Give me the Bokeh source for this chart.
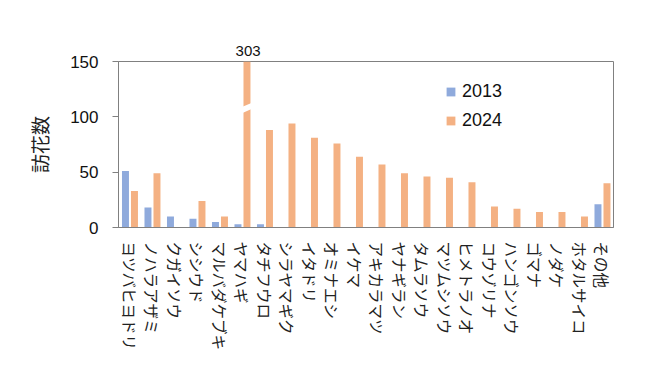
import math
from bokeh.plotting import figure
from bokeh.models import (ColumnDataSource, Range1d, FixedTicker, Legend, LegendItem, Title)
from bokeh.embed import file_html
from bokeh.resources import INLINE

# Flower species visited (x categories)
species = ["ヨツバヒヨドリ", "ノハラアザミ", "クガイソウ", "シシウド", "マルバダケブキ",
           "ヤマハギ", "タチフウロ", "シラヤマギク", "イタドリ", "オミナエシ", "イケマ",
           "アキカラマツ", "ヤナギラン", "タムラソウ", "マツムシソウ", "ヒメトラノオ",
           "コウゾリナ", "ハンゴンソウ", "ゴマナ", "ノダケ", "ホタルサイコ", "その他"]
# Visit counts per survey year
visits_2013 = [51, 18, 10, 8, 5, 3, 3, 0, 0, 0, 0, 0, 0, 0, 0, 0, 0, 0, 0, 0, 0, 21]
visits_2024 = [33, 49, 0, 24, 10, 303, 88, 94, 81, 76, 64, 57, 49, 46, 45, 41, 19, 17, 14, 14, 10, 40]
y_ticks = [0, 50, 100, 150]
y_max = 150

BLUE = "#8faadc"
ORANGE = "#f4b183"
GRID_GRAY = "#808080"
JP_FONT = "Noto Sans CJK JP"
NUM_FONT = "Liberation Sans"

W, H = 654, 387
BORDER_L, BORDER_R, BORDER_T, BORDER_B = 118, 41, 61, 160
frame_w = W - BORDER_L - BORDER_R

n = len(species)
idx = list(range(n))
OFF13, OFF24, BAR_W = -0.19, 0.21, 0.31
src = ColumnDataSource(dict(
    x13=[i + 0.5 + OFF13 for i in idx],
    x24=[i + 0.5 + OFF24 for i in idx],
    v13=visits_2013,
    v24=visits_2024,
))

p = figure(width=W, height=H, output_backend="svg", toolbar_location=None,
           x_range=Range1d(0, n), y_range=Range1d(0, y_max),
           min_border_left=BORDER_L, min_border_right=BORDER_R,
           min_border_top=BORDER_T, min_border_bottom=BORDER_B)
p.background_fill_color = "white"
p.border_fill_color = "white"
p.outline_line_color = GRID_GRAY
p.outline_line_width = 1
p.xgrid.visible = False
p.ygrid.visible = False

r13 = p.vbar(x="x13", top="v13", width=BAR_W, source=src, fill_color=BLUE, line_color=None)
r24 = p.vbar(x="x24", top="v24", width=BAR_W, source=src, fill_color=ORANGE, line_color=None)

# Axis break on any bar that runs off the scale, with its true value above the frame
break_level = 108
for i, v in enumerate(visits_2024):
    if v > y_max:
        cx = i + 0.5 + OFF24
        p.patch(x=[cx - 0.2, cx - 0.2, cx + 0.2, cx + 0.2],
                y=[break_level - 4.5, break_level + 1, break_level + 4.5, break_level - 1],
                fill_color="white", line_color=None)
        txt = str(v)
        txt_w = 0.556 * 15 * len(txt)
        px = (cx + 0.05) / n * frame_w
        p.add_layout(Title(text=txt, align="left", offset=px - txt_w / 2, standoff=11,
                           text_font=NUM_FONT, text_font_size="15px",
                           text_font_style="normal", text_color="#111111"), "above")

# y axis
p.yaxis.ticker = FixedTicker(ticks=y_ticks)
p.yaxis.axis_label = "訪花数"
p.yaxis.axis_label_text_font = JP_FONT
p.yaxis.axis_label_text_font_size = "19px"
p.yaxis.axis_label_text_font_style = "normal"
p.yaxis.axis_label_text_color = "#222222"
p.yaxis.axis_label_standoff = 14
p.yaxis.major_label_text_font = NUM_FONT
p.yaxis.major_label_text_font_size = "17px"
p.yaxis.major_label_text_color = "#111111"
p.yaxis.major_label_standoff = 14
p.yaxis.major_tick_out = 6
p.yaxis.major_tick_in = 0
p.yaxis.minor_tick_line_color = None
p.yaxis.axis_line_color = GRID_GRAY
p.yaxis.major_tick_line_color = GRID_GRAY

# x axis: category names, read top to bottom
p.xaxis.ticker = FixedTicker(ticks=[i + 0.5 for i in idx])
p.xaxis.major_label_overrides = {i + 0.5: s for i, s in enumerate(species)}
p.xaxis.major_label_orientation = -math.pi / 2
p.xaxis.major_label_text_font = JP_FONT
p.xaxis.major_label_text_font_size = "15.5px"
p.xaxis.major_label_text_color = "#222222"
p.xaxis.major_label_standoff = 8
p.xaxis.major_tick_line_color = None
p.xaxis.minor_tick_line_color = None
p.xaxis.axis_line_color = GRID_GRAY

legend = Legend(items=[LegendItem(label="2013", renderers=[r13]),
                       LegendItem(label="2024", renderers=[r24])],
                location=(327, 96), orientation="vertical")
legend.glyph_width = 11
legend.glyph_height = 11
legend.label_standoff = 6
legend.label_height = 20
legend.spacing = 8
legend.padding = 0
legend.margin = 0
legend.label_text_font = NUM_FONT
legend.label_text_font_size = "18px"
legend.label_text_color = "#111111"
legend.border_line_color = None
legend.background_fill_alpha = 0
p.add_layout(legend)

open("out.html", "w").write(file_html(p, INLINE))
